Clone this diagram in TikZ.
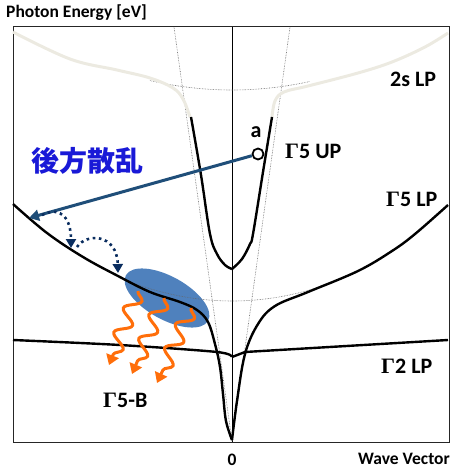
\documentclass[tikz,border=0pt]{standalone}
\usepackage{fontspec}
\setmainfont{Carlito}
\newfontfamily\grk{Liberation Serif}
\newfontfamily\cjk{Noto Sans CJK JP}
\usetikzlibrary{arrows.meta,decorations.pathmorphing,shapes.geometric}
\definecolor{arrowblue}{RGB}{31,78,121}
\definecolor{dotnavy}{RGB}{10,45,95}
\definecolor{blobblue}{RGB}{79,129,189}
\definecolor{waveorange}{RGB}{255,110,10}
\definecolor{lpgray}{RGB}{236,234,225}
\definecolor{kanjiblue}{RGB}{25,25,215}

\begin{document}
\begin{tikzpicture}[x=1pt, y=-1pt,
  curve/.style={line width=2.4pt, line join=round},
  guide/.style={black!60, densely dotted, line width=0.6pt},
  lab/.style={font=\bfseries\fontsize{22}{26}\selectfont, inner sep=0pt, anchor=base west},
  axlab/.style={font=\bfseries\fontsize{17.5}{20}\selectfont, inner sep=0pt},
  hop/.style={dotnavy, line width=2.6pt, dash pattern=on 2.6pt off 3.6pt, -{Triangle[width=10pt,length=9pt]}},
  photon/.style={waveorange, line width=3pt, -{Triangle[width=13pt,length=10pt]},
    decorate, decoration={snake, amplitude=7.5pt, segment length=26pt, post length=10pt}}
]
  \useasboundingbox (0,0) rectangle (450,468);

  % Frame and axis
  \draw[black!85, line width=1pt] (13,27) rectangle (449,442);
  \draw[line width=0.8pt] (232,27) -- (232,442);

  % Exciton cloud
  \node[ellipse, fill=blobblue, minimum width=94pt, minimum height=43pt, rotate=-29] (blob) at (167,298) {};

  % Light lines and bare exciton dispersions
  \draw[guide] (232,441) -- (174,27);
  \draw[guide] (232,441) -- (290,27);
  \draw[guide] plot[domain=150:310, samples=30] (\x, {90-0.0014*(\x-232)*(\x-232)});
  \draw[guide] plot[domain=130:325, samples=30] (\x, {301-0.00183*(\x-232)*(\x-232)});

  % 2s LP (grey)
  \draw[lpgray, line width=3pt] plot[smooth, tension=0.6] coordinates
    {(13,32) (70,59) (117,70) (150,78) (173,88) (183,99) (190,117)};
  \draw[lpgray, line width=3pt] plot[smooth, tension=0.6] coordinates
    {(272,117) (275,101) (284,92) (308,86) (358,73) (392,62) (425,47) (448,33)};

  % Gamma5 UP
  \draw[curve] plot[smooth, tension=0.6] coordinates
    {(191,117) (201,175) (210,234) (217,254) (225,265) (232,269)};
  \draw[curve] plot[smooth, tension=0.6] coordinates
    {(232,269) (242,259) (250,244) (253,234) (263,172) (272,117)};

  % Gamma5 LP
  \draw[curve] plot[smooth, tension=0.6] coordinates
    {(13,204) (47,233) (83,257) (118,276) (150,292) (180,302) (197,310)
     (208,322) (215,344) (220,367) (223,394) (226,421) (232,440)};
  \draw[curve] plot[smooth, tension=0.6] coordinates
    {(232,440) (237,401) (245,354) (258,324) (275,306) (308,292) (358,271)
     (392,251) (415,234) (448,205)};

  % Gamma2 LP
  \draw[curve] plot[smooth, tension=0.5] coordinates
    {(13,340) (120,345) (217,352) (232,357)};
  \draw[curve] (232,357) -- (245,352) -- (448,340);

  % Backscattering from point a
  \node[circle, draw, fill=white, line width=1.8pt, minimum size=11pt, inner sep=0pt] (pa) at (258,154) {};
  \coordinate (tip) at (29,218);
  \draw[arrowblue, line width=3pt, -{Triangle[width=11pt,length=10pt]}] (pa) -- (tip);

  % Relaxation hops along LP
  \coordinate (h0) at (42,215);
  \coordinate (h1) at (71,248);
  \coordinate (h2) at (77,247);
  \coordinate (h3) at (118,273);
  \draw[hop] (h0) .. controls (62,205) and (71,220) .. (h1);
  \draw[hop] (h2) .. controls (86,233) and (117,233) .. (h3);

  % Emission
  \coordinate (p1s) at (138,291);
  \coordinate (p1e) at (109,365);
  \coordinate (p2s) at (164,298);
  \coordinate (p2e) at (132,374);
  \coordinate (p3s) at (191,308);
  \coordinate (p3e) at (157,383);
  \draw[photon] (p1s) -- (p1e);
  \draw[photon] (p2s) -- (p2e);
  \draw[photon] (p3s) -- (p3e);

  % Labels
  \node[axlab, anchor=base west] (yaxis) at (6,18) {Photon Energy [eV]};
  \node[axlab, anchor=base east] (xaxis) at (450,464) {Wave Vector};
  \node[axlab, anchor=base] (zero) at (232,465) {0};
  \node[lab] (lp2s) at (390,87) {2s LP};
  \node[lab] (up5) at (285,158) {{\grk Γ}5 UP};
  \node[lab] (lp5) at (386,206) {{\grk Γ}5 LP};
  \node[lab] (lp2) at (381,373) {{\grk Γ}2 LP};
  \node[lab] (b5) at (103,407) {{\grk Γ}5-B};
  \node[lab, anchor=base] (alab) at (256,137) {a};
  \node[lab, font=\cjk\bfseries\fontsize{28}{32}\selectfont, text=kanjiblue] (back) at (31,171) {後方散乱};
\end{tikzpicture}
\end{document}
